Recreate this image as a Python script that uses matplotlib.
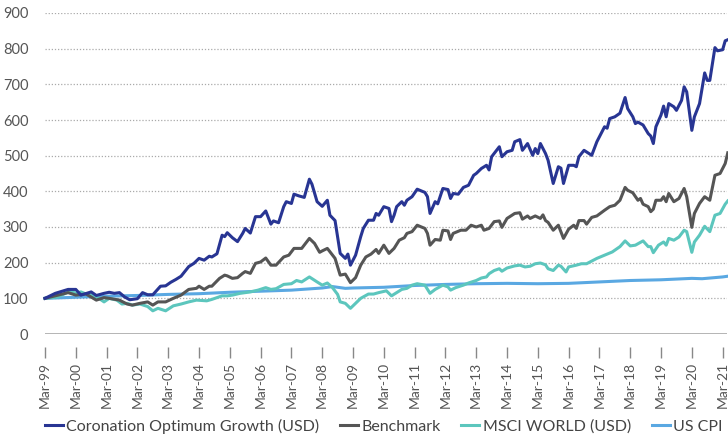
import matplotlib
matplotlib.use("Agg")
import matplotlib.pyplot as plt
from matplotlib.lines import Line2D

# Months since Mar-1999 and index values (base 100)
cog_months = [0, 4, 9, 12, 14, 18, 20, 23, 25, 27, 29, 31, 33, 36, 38, 40, 42, 45, 47, 49, 51, 53, 56, 58, 60,
              62, 64, 65, 67, 69, 70, 71, 73, 75, 77, 78, 80, 82, 84, 86, 88, 89, 91, 93, 94, 96, 97, 99, 101,
              103, 104, 106, 108, 110, 111, 113, 115, 117, 118, 119, 121, 123, 124, 126, 128, 129, 130, 132,
              134, 135, 136, 137, 139, 140, 141, 143, 145, 148, 149, 150, 152, 153, 155, 157, 158, 159, 161,
              163, 165, 167, 168, 170, 172, 173, 174, 177, 178, 180, 182, 183, 184, 185, 186, 188, 190, 191,
              192, 193, 195, 196, 198, 200, 201, 202, 204, 206, 207, 208, 210, 213, 214, 215, 218, 219, 220,
              222, 224, 226, 227, 229, 230, 231, 233, 235, 236, 237, 238, 240, 241, 242, 243, 245, 246, 248,
              249, 250, 252, 253, 255, 257, 258, 259, 261, 262, 264, 265, 266]
cog_values = [100, 114, 125, 125, 109, 118, 108, 114, 117, 114, 116, 104, 96, 99, 116, 110, 110, 134, 135, 145,
              153, 162, 189, 198, 212, 207, 218, 216, 225, 277, 273, 284, 270, 259, 282, 296, 283, 329, 329, 345,
              308, 317, 312, 357, 371, 366, 392, 387, 383, 434, 420, 371, 358, 375, 333, 318, 226, 212, 224,
              193, 221, 273, 296, 319, 319, 338, 333, 357, 352, 315, 333, 357, 371, 361, 375, 385, 406, 397,
              385, 338, 371, 365, 408, 405, 380, 394, 392, 411, 417, 445, 450, 464, 473, 460, 497, 525, 497,
              511, 515, 539, 542, 545, 515, 534, 501, 520, 506, 534, 506, 487, 422, 469, 465, 422, 473, 473,
              469, 497, 515, 501, 520, 539, 581, 577, 604, 609, 619, 663, 632, 609, 590, 594, 586, 562, 555,
              534, 581, 614, 639, 609, 646, 637, 627, 655, 693, 679, 571, 609, 646, 732, 711, 711, 803, 794,
              797, 822, 825]

bm_months = [0, 4, 9, 12, 16, 20, 23, 25, 29, 32, 34, 37, 40, 42, 44, 47, 50, 53, 56, 59, 60, 62, 64, 65, 68,
             70, 71, 73, 75, 77, 78, 80, 82, 84, 86, 88, 90, 93, 95, 97, 100, 103, 105, 107, 108, 110, 112,
             113, 115, 117, 119, 121, 123, 125, 127, 129, 130, 132, 134, 136, 138, 140, 141, 143, 145, 148,
             149, 150, 152, 154, 155, 157, 158, 159, 162, 164, 166, 168, 170, 171, 173, 175, 177, 178, 180,
             183, 185, 186, 188, 189, 191, 193, 194, 195, 196, 198, 200, 202, 204, 206, 207, 208, 210, 211,
             213, 215, 218, 220, 222, 224, 226, 227, 229, 231, 232, 233, 235, 236, 237, 238, 240, 241, 242,
             243, 245, 247, 249, 250, 252, 253, 255, 257, 259, 261, 263, 265, 266]
bm_values = [100, 107, 116, 109, 112, 95, 102, 100, 95, 84, 81, 86, 90, 81, 90, 90, 100, 109, 125, 128, 134,
             125, 134, 134, 156, 165, 163, 156, 158, 170, 175, 170, 198, 202, 213, 193, 193, 216, 221, 240,
             240, 268, 254, 229, 233, 240, 221, 212, 165, 168, 144, 158, 193, 216, 224, 237, 226, 249, 226,
             240, 263, 270, 282, 287, 305, 296, 282, 249, 265, 263, 291, 289, 265, 282, 291, 291, 305, 300,
             305, 291, 296, 315, 317, 299, 324, 338, 340, 322, 331, 324, 331, 324, 334, 318, 313, 291, 305,
             268, 294, 305, 296, 318, 318, 308, 327, 331, 347, 357, 361, 375, 411, 403, 396, 375, 380, 364,
             357, 343, 350, 375, 375, 385, 371, 394, 371, 380, 408, 385, 299, 338, 366, 385, 375, 445, 450,
             478, 508]

msci_months = [0, 5, 10, 12, 14, 16, 19, 21, 23, 25, 28, 30, 32, 34, 37, 40, 42, 44, 47, 50, 53, 56, 59, 63,
               65, 69, 71, 73, 76, 78, 80, 83, 86, 88, 90, 93, 96, 98, 100, 103, 106, 108, 110, 112, 114, 115,
               117, 119, 121, 123, 126, 128, 130, 133, 135, 137, 139, 141, 143, 145, 148, 150, 152, 155, 157,
               158, 160, 163, 165, 168, 170, 172, 173, 175, 177, 178, 180, 183, 185, 187, 189, 191, 193, 195,
               196, 198, 200, 201, 203, 204, 207, 209, 211, 215, 218, 221, 224, 226, 228, 230, 233, 235, 236,
               237, 239, 241, 242, 243, 245, 247, 249, 250, 252, 253, 255, 257, 259, 261, 263, 265, 266]
msci_values = [100, 104, 121, 114, 118, 112, 109, 100, 90, 100, 95, 84, 86, 81, 84, 77, 65, 72, 65, 79, 84,
               90, 95, 93, 97, 107, 107, 109, 114, 116, 118, 123, 130, 125, 127, 139, 141, 150, 146, 160, 146,
               137, 143, 130, 111, 90, 86, 72, 86, 100, 112, 112, 116, 121, 107, 116, 125, 128, 137, 141, 137,
               114, 125, 137, 132, 123, 130, 137, 143, 150, 157, 160, 169, 178, 183, 176, 185, 191, 193, 188,
               190, 197, 199, 194, 183, 178, 193, 190, 174, 188, 193, 197, 197, 212, 221, 230, 245, 261, 247,
               249, 261, 245, 245, 228, 249, 258, 249, 268, 263, 272, 291, 287, 229, 258, 277, 302, 287, 333,
               338, 364, 373]

cpi_months = [0, 12, 24, 36, 48, 60, 72, 84, 96, 108, 112, 117, 120, 132, 144, 156, 168, 180, 192, 204, 216,
              228, 240, 252, 256, 264, 266]
cpi_values = [100, 103, 106, 108, 111, 113, 117, 120, 123, 129, 133, 128, 129, 131, 136, 139, 141, 142, 141,
              142, 146, 150, 152, 156, 155, 160, 162]

tick_labels = ["Mar-99", "Mar-00", "Mar-01", "Mar-02", "Mar-03", "Mar-04", "Mar-05", "Mar-06", "Mar-07",
               "Mar-08", "Mar-09", "Mar-10", "Mar-11", "Mar-12", "Mar-13", "Mar-14", "Mar-15", "Mar-16",
               "Mar-17", "Mar-18", "Mar-19", "Mar-20", "Mar-21"]
series_names = ["Coronation Optimum Growth (USD)", "Benchmark", "MSCI WORLD (USD)", "US CPI"]
colors = ["#283593", "#555555", "#5cc6bd", "#5aa8e2"]

plt.rcParams['font.family'] = ['Lato', 'DejaVu Sans']

W, H = 728, 436
fig = plt.figure(figsize=(W / 100, H / 100), dpi=100)
ax = fig.add_axes([45 / W, (H - 334) / H, (727 - 45) / W, (334 - 13) / H])

for s in ["top", "right", "left"]:
    ax.spines[s].set_visible(False)
ax.spines["bottom"].set_position(("outward", 9))
ax.spines["bottom"].set_visible(False)

series = [(cog_months, cog_values), (bm_months, bm_values), (msci_months, msci_values), (cpi_months, cpi_values)]
z = [5, 4, 3, 2]
for (xs, ys), c, name, zz in zip(series, colors, series_names, z):
    ax.plot(xs, ys, color=c, lw=2.2, label=name, zorder=zz, solid_joinstyle='round', clip_on=False)

ax.set_xlim(0, 265.7)
ax.set_ylim(0, 900)
ax.set_yticks(range(0, 901, 100))
ax.set_xticks([12 * i for i in range(len(tick_labels))])
ax.set_xticklabels(tick_labels, rotation=90)

for y in range(100, 901, 100):
    ax.axhline(y, color="#aaaaaa", lw=0.9, ls=(0, (1, 1.5)), zorder=1)
ax.axhline(0, color="#9e9e9e", lw=1.8, zorder=1)

ax.tick_params(axis="y", length=0, pad=12, labelsize=10.5, labelcolor="#555555")
ax.tick_params(axis="x", length=8, width=1, color="#888888", pad=3, labelsize=10, labelcolor="#555555")

handles = [Line2D([], [], color=c, lw=2.2) for c in colors]
fig.legend(handles, series_names, loc="center left", bbox_to_anchor=(45 / W, 1 - 426 / H), ncol=4, frameon=False,
           fontsize=11.5, handlelength=1.13, handletextpad=0.2, columnspacing=1.3, labelcolor="#444444",
           borderaxespad=0, borderpad=0)

fig.savefig("out.png", dpi=100)
